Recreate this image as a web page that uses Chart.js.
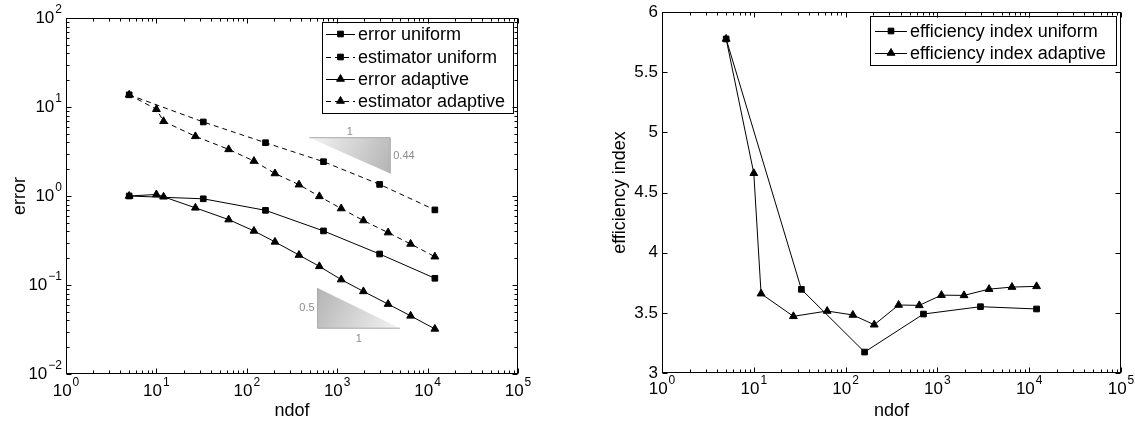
<!DOCTYPE html>
<html>
<head>
<meta charset="utf-8">
<script src="https://cdn.jsdelivr.net/npm/chart.js@4.4.1/dist/chart.umd.min.js"></script>
<style>
    html, body { margin: 0; padding: 0; background: #fff; }
    #wrap { position: relative; width: 1135px; height: 424px; }
    #errorChart { position: absolute; left: 0; top: 0; }
    #effChart { position: absolute; left: 570px; top: 0; }
</style>
</head>
<body>
<div id="wrap">
    <canvas id="errorChart" width="570" height="424"></canvas>
    <canvas id="effChart" width="565" height="424"></canvas>
</div>
<script>
// values
const ndofUniform = [5, 33, 161, 705, 2945, 12033];
const errorUniform = [1.0, 0.93, 0.69, 0.405, 0.223, 0.119];
const estimatorUniform = [13.7, 6.79, 3.97, 2.43, 1.35, 0.698];

const ndofAdaptive = [5, 10, 12, 27, 63, 120, 205, 378, 635, 1107, 1950, 3656, 6490, 12033];
const errorAdaptive = [1.0, 1.04, 0.98, 0.736, 0.543, 0.405, 0.305, 0.217, 0.162, 0.115, 0.0847, 0.061, 0.045, 0.0321];
const estimatorAdaptive = [13.7, 9.43, 6.91, 4.68, 3.34, 2.47, 1.79, 1.34, 0.99, 0.723, 0.530, 0.388, 0.289, 0.208];

const effUniform = [5.776, 3.695, 3.174, 3.490, 3.551, 3.532];
const effAdaptive = [5.776, 4.660, 3.659, 3.471, 3.515, 3.482, 3.401, 3.565, 3.562, 3.647, 3.645, 3.697, 3.714, 3.720];

// tick labels (exponents of 10 for the log axes)
const ndofDecades = [0, 1, 2, 3, 4, 5];
const errorDecades = [-2, -1, 0, 1, 2];
const effTicks = [3, 3.5, 4, 4.5, 5, 5.5, 6];

// slope triangles, in (ndof, error) units
const slopeUpper = [[492, 4.52], [3862, 4.52], [3862, 1.79]];
const slopeLower = [[607, 0.0923], [607, 0.0327], [4940, 0.0327]];

const FONT = '"Liberation Sans", Arial, Helvetica, sans-serif';
const TICK_SIZE = 17;
const EXP_SIZE = 12;

function points(xs, ys) {
    return xs.map((x, i) => ({ x: x, y: ys[i] }));
}

function series(label, xs, ys, style, dashed) {
    return {
        label: label,
        data: points(xs, ys),
        borderColor: '#000',
        backgroundColor: '#000',
        borderWidth: 1,
        borderDash: dashed ? [5, 4] : [],
        pointStyle: style,
        pointRadius: style === 'rect' ? 4 : 4.5,
        pointBorderWidth: 1,
        pointBackgroundColor: '#000',
        pointBorderColor: '#000',
        tension: 0,
        fill: false
    };
}

// "10" with a raised exponent
function drawPow(ctx, exp, x, y, align) {
    ctx.font = TICK_SIZE + 'px ' + FONT;
    const wb = ctx.measureText('10').width;
    const es = String(exp).replace('-', '\u2212');
    ctx.font = EXP_SIZE + 'px ' + FONT;
    const we = ctx.measureText(es).width;
    const w = wb + 1 + we;
    let x0 = x;
    if (align === 'right') x0 = x - w;
    if (align === 'center') x0 = x - w / 2;
    ctx.textAlign = 'left';
    ctx.textBaseline = 'middle';
    ctx.font = TICK_SIZE + 'px ' + FONT;
    ctx.fillText('10', x0, y);
    ctx.font = EXP_SIZE + 'px ' + FONT;
    ctx.fillText(es, x0 + wb + 1, y - 8);
}

function logTickValues(decades) {
    const vals = [];
    for (let i = 0; i < decades.length - 1; i++) {
        for (let m = 1; m <= 9; m++) vals.push({ v: m * Math.pow(10, decades[i]), major: m === 1 });
    }
    vals.push({ v: Math.pow(10, decades[decades.length - 1]), major: true });
    return vals;
}

// box, inward ticks, tick labels and axis titles, MATLAB style
const frame = {
    id: 'frame',
    afterDraw(chart, args, opts) {
        const ctx = chart.ctx;
        const a = chart.chartArea;
        const xs = chart.scales.x, ys = chart.scales.y;
        const L = Math.round(a.left) + 0.5, R = Math.round(a.right) - 0.5;
        const T = Math.round(a.top) + 0.5, B = Math.round(a.bottom) - 0.5;
        ctx.save();
        ctx.strokeStyle = '#000';
        ctx.lineWidth = 1;
        ctx.setLineDash([]);
        ctx.strokeRect(L, T, R - L, B - T);

        ctx.beginPath();
        logTickValues(ndofDecades).forEach(t => {
            const px = Math.round(xs.getPixelForValue(t.v)) + 0.5;
            const len = t.major ? 5 : 3;
            ctx.moveTo(px, B); ctx.lineTo(px, B - len);
            ctx.moveTo(px, T); ctx.lineTo(px, T + len);
        });
        const yTicks = opts.logY
            ? logTickValues(errorDecades)
            : effTicks.map(v => ({ v: v, major: true }));
        yTicks.forEach(t => {
            const py = Math.round(ys.getPixelForValue(t.v)) + 0.5;
            const len = t.major ? 5 : 3;
            ctx.moveTo(L, py); ctx.lineTo(L + len, py);
            ctx.moveTo(R, py); ctx.lineTo(R - len, py);
        });
        ctx.stroke();

        ctx.fillStyle = '#000';
        ndofDecades.forEach(e => {
            drawPow(ctx, e, xs.getPixelForValue(Math.pow(10, e)), opts.xLabelY, 'center');
        });
        if (opts.logY) {
            errorDecades.forEach(e => {
                drawPow(ctx, e, a.left - 4, ys.getPixelForValue(Math.pow(10, e)), 'right');
            });
        } else {
            ctx.font = TICK_SIZE + 'px ' + FONT;
            ctx.textAlign = 'right';
            ctx.textBaseline = 'middle';
            effTicks.forEach(v => ctx.fillText(String(v), a.left - 4, ys.getPixelForValue(v)));
        }

        ctx.font = '18px ' + FONT;
        ctx.textAlign = 'center';
        ctx.textBaseline = 'middle';
        ctx.fillText(opts.xTitle, (a.left + a.right) / 2, opts.xTitleY);
        ctx.save();
        ctx.translate(opts.yTitleX, (a.top + a.bottom) / 2);
        ctx.rotate(-Math.PI / 2);
        ctx.fillText(opts.yTitle, 0, 0);
        ctx.restore();
        ctx.restore();
    }
};

// legend box with line sample + marker
const boxLegend = {
    id: 'boxLegend',
    afterDatasetsDraw(chart, args, opts) {
        const ctx = chart.ctx;
        const b = opts.box;
        ctx.save();
        ctx.fillStyle = '#fff';
        ctx.fillRect(b[0], b[1], b[2] - b[0], b[3] - b[1]);
        ctx.strokeStyle = '#000';
        ctx.lineWidth = 1;
        ctx.strokeRect(b[0] + 0.5, b[1] + 0.5, b[2] - b[0], b[3] - b[1]);
        chart.data.datasets.forEach((ds, i) => {
            const y = opts.rows[i];
            ctx.strokeStyle = '#000';
            ctx.setLineDash(ds.borderDash);
            ctx.beginPath();
            ctx.moveTo(opts.lineX[0], Math.round(y) + 0.5);
            ctx.lineTo(opts.lineX[1], Math.round(y) + 0.5);
            ctx.stroke();
            ctx.setLineDash([]);
            ctx.fillStyle = '#000';
            Chart.helpers.drawPoint(ctx, {
                pointStyle: ds.pointStyle, radius: ds.pointRadius, borderWidth: 1, rotation: 0
            }, (opts.lineX[0] + opts.lineX[1]) / 2, y);
            ctx.fillStyle = '#000';
            ctx.font = '18px ' + FONT;
            ctx.textAlign = 'left';
            ctx.textBaseline = 'middle';
            ctx.fillText(ds.label, opts.textX, y + 1);
        });
        ctx.restore();
    }
};

// grey slope triangles with their labels
const slopes = {
    id: 'slopes',
    beforeDatasetsDraw(chart) {
        const ctx = chart.ctx;
        const xs = chart.scales.x, ys = chart.scales.y;
        const px = p => [xs.getPixelForValue(p[0]), ys.getPixelForValue(p[1])];
        ctx.save();

        const u = slopeUpper.map(px);
        let g = ctx.createLinearGradient(u[0][0], u[0][1], u[2][0], u[2][1]);
        g.addColorStop(0, '#f4f4f4');
        g.addColorStop(1, '#b4b4b4');
        ctx.fillStyle = g;
        ctx.beginPath();
        ctx.moveTo(u[0][0], u[0][1]); ctx.lineTo(u[1][0], u[1][1]); ctx.lineTo(u[2][0], u[2][1]);
        ctx.closePath();
        ctx.fill();
        ctx.strokeStyle = '#a8a8a8';
        ctx.beginPath();
        ctx.moveTo(u[0][0], u[0][1]); ctx.lineTo(u[1][0], u[1][1]); ctx.lineTo(u[2][0], u[2][1]);
        ctx.stroke();

        const l = slopeLower.map(px);
        g = ctx.createLinearGradient(l[0][0], l[0][1], l[2][0], l[2][1]);
        g.addColorStop(0, '#b4b4b4');
        g.addColorStop(1, '#f4f4f4');
        ctx.fillStyle = g;
        ctx.beginPath();
        ctx.moveTo(l[0][0], l[0][1]); ctx.lineTo(l[1][0], l[1][1]); ctx.lineTo(l[2][0], l[2][1]);
        ctx.closePath();
        ctx.fill();
        ctx.strokeStyle = '#a8a8a8';
        ctx.beginPath();
        ctx.moveTo(l[0][0], l[0][1]); ctx.lineTo(l[1][0], l[1][1]); ctx.lineTo(l[2][0], l[2][1]);
        ctx.stroke();

        ctx.fillStyle = '#8c8c8c';
        ctx.font = '11px ' + FONT;
        ctx.textBaseline = 'middle';
        ctx.textAlign = 'center';
        ctx.fillText('1', (u[0][0] + u[1][0]) / 2, u[0][1] - 6);
        ctx.fillText('1', (l[1][0] + l[2][0]) / 2, l[1][1] + 11);
        ctx.textAlign = 'left';
        ctx.fillText('0.44', u[1][0] + 3, (u[1][1] + u[2][1]) / 2);
        ctx.textAlign = 'right';
        ctx.fillText('0.5', l[0][0] - 3, (l[0][1] + l[1][1]) / 2);
        ctx.restore();
    }
};

function xScale(height) {
    return {
        type: 'logarithmic', min: 1, max: 100000,
        ticks: { display: false }, grid: { display: false }, border: { display: false },
        afterFit: s => { s.height = height; }
    };
}

new Chart(document.getElementById('errorChart').getContext('2d'), {
    type: 'line',
    data: {
        datasets: [
            series('error uniform', ndofUniform, errorUniform, 'rect', false),
            series('estimator uniform', ndofUniform, estimatorUniform, 'rect', true),
            series('error adaptive', ndofAdaptive, errorAdaptive, 'triangle', false),
            series('estimator adaptive', ndofAdaptive, estimatorAdaptive, 'triangle', true)
        ]
    },
    options: {
        responsive: false,
        animation: false,
        events: [],
        layout: { padding: { left: 0, top: 18, right: 52, bottom: 0 } },
        scales: {
            x: xScale(50),
            y: {
                type: 'logarithmic', min: 0.01, max: 100,
                ticks: { display: false }, grid: { display: false }, border: { display: false },
                afterFit: s => { s.width = 66; }
            }
        },
        plugins: {
            legend: { display: false },
            tooltip: { enabled: false },
            frame: { logY: true, xTitle: 'ndof', yTitle: 'error', xLabelY: 391, xTitleY: 411, yTitleX: 20 },
            boxLegend: { box: [322, 22, 513, 113], rows: [34, 57, 79, 101], lineX: [326, 355], textX: 358 }
        }
    },
    plugins: [slopes, frame, boxLegend]
});

new Chart(document.getElementById('effChart').getContext('2d'), {
    type: 'line',
    data: {
        datasets: [
            series('efficiency index uniform', ndofUniform, effUniform, 'rect', false),
            series('efficiency index adaptive', ndofAdaptive, effAdaptive, 'triangle', false)
        ]
    },
    options: {
        responsive: false,
        animation: false,
        events: [],
        layout: { padding: { left: 0, top: 12, right: 14, bottom: 0 } },
        scales: {
            x: xScale(51),
            y: {
                type: 'linear', min: 3, max: 6,
                ticks: { display: false }, grid: { display: false }, border: { display: false },
                afterFit: s => { s.width = 92; }
            }
        },
        plugins: {
            legend: { display: false },
            tooltip: { enabled: false },
            frame: { logY: false, xTitle: 'ndof', yTitle: 'efficiency index', xLabelY: 389, xTitleY: 411, yTitleX: 50 },
            boxLegend: { box: [300, 16, 546, 65], rows: [31, 53], lineX: [305, 337], textX: 340 }
        }
    },
    plugins: [frame, boxLegend]
});
</script>
</body>
</html>
